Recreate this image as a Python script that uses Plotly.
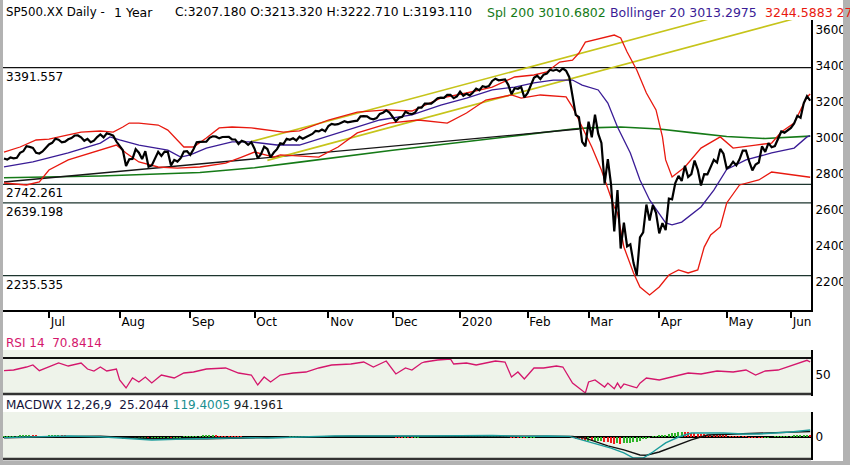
import pandas as pd
import plotly.graph_objects as go

# ---------------- data ----------------
holidays = ["2019-07-04", "2019-09-02", "2019-11-28", "2019-12-25", "2020-01-01",
            "2020-01-20", "2020-02-17", "2020-04-10", "2020-05-25"]

closes = [
    # Jun 2019 (from 11th)
    2885.72, 2879.84, 2891.64, 2886.98, 2889.67, 2917.75, 2926.46, 2954.18, 2950.46, 2945.35,
    2917.38, 2913.78, 2924.92, 2941.76,
    # Jul
    2964.33, 2973.01, 2995.82, 2990.41, 2975.95, 2979.63, 2993.07, 2999.91, 3013.77, 3014.30,
    3004.04, 2984.42, 2995.11, 2976.61, 2985.03, 3005.47, 3019.56, 3003.67, 3025.86, 3020.97,
    3013.18, 2980.38,
    # Aug
    2953.56, 2932.05, 2844.74, 2881.77, 2883.98, 2938.09, 2918.65, 2882.70, 2926.32, 2840.60,
    2847.60, 2888.68, 2923.65, 2900.51, 2924.43, 2922.95, 2847.11, 2878.38, 2869.16, 2887.94,
    2924.58, 2926.46,
    # Sep
    2906.27, 2937.78, 2976.00, 2978.71, 2978.43, 2979.39, 3000.93, 3009.57, 3007.39, 2997.96,
    3005.70, 3006.73, 3006.79, 2992.07, 2991.78, 2966.60, 2984.87, 2977.62, 2961.79, 2976.74,
    # Oct
    2940.25, 2887.61, 2910.63, 2952.01, 2938.79, 2893.06, 2919.40, 2938.13, 2970.27, 2966.15,
    2995.68, 2989.69, 2997.95, 2986.20, 3006.72, 2995.99, 3004.52, 3010.29, 3022.55, 3039.42,
    3036.89, 3046.77, 3037.56,
    # Nov
    3066.91, 3078.27, 3074.62, 3076.78, 3085.18, 3093.08, 3087.01, 3091.84, 3094.04, 3096.63,
    3120.46, 3122.03, 3120.18, 3108.46, 3103.54, 3110.29, 3133.64, 3140.52, 3153.63, 3140.98,
    # Dec
    3113.87, 3093.20, 3112.76, 3117.43, 3145.91, 3135.96, 3132.52, 3141.63, 3168.57, 3168.80,
    3191.45, 3192.52, 3191.14, 3205.37, 3221.22, 3224.01, 3223.38, 3239.91, 3240.02, 3221.29,
    3230.78,
    # Jan 2020
    3257.85, 3234.85, 3246.28, 3237.18, 3253.05, 3274.70, 3265.35, 3288.13, 3283.15, 3289.29,
    3316.81, 3329.62, 3320.79, 3321.75, 3325.54, 3295.47, 3243.63, 3276.24, 3273.40, 3283.66,
    3225.52,
    # Feb
    3248.92, 3297.59, 3334.69, 3345.78, 3327.71, 3352.09, 3357.75, 3379.45, 3373.94, 3380.16,
    3370.29, 3386.15, 3373.23, 3337.75, 3225.89, 3128.21, 3116.39, 2978.76, 2954.22,
    # Mar
    3090.23, 3003.37, 3130.12, 3023.94, 2972.37, 2746.56, 2882.23, 2741.38, 2480.64, 2711.02,
    2386.13, 2529.19, 2398.10, 2409.39, 2304.92, 2237.40, 2447.33, 2475.56, 2630.07, 2541.47,
    2626.65, 2584.59,
    # Apr
    2470.50, 2526.90, 2488.65, 2663.68, 2659.41, 2749.98, 2789.82, 2761.63, 2846.06, 2783.36,
    2799.55, 2874.56, 2823.16, 2736.56, 2799.31, 2797.80, 2836.74, 2878.48, 2863.39, 2939.51,
    2912.43,
    # May
    2830.71, 2842.74, 2868.44, 2848.42, 2881.19, 2929.80, 2930.19, 2870.12, 2820.00, 2852.50,
    2863.70, 2953.91, 2922.94, 2971.61, 2948.51, 2955.45, 2991.77, 3036.13, 3029.73, 3044.31,
    # Jun
    3055.73, 3080.82, 3122.87, 3112.35, 3193.93, 3232.39, 3207.18,
]

sma200_dates = ["2019-06-11", "2019-07-24", "2019-09-06", "2019-10-01", "2019-10-21",
                "2019-11-13", "2019-12-02", "2019-12-18", "2020-01-02", "2020-02-03",
                "2020-02-24", "2020-03-02", "2020-03-16", "2020-04-01", "2020-04-16",
                "2020-05-01", "2020-05-19", "2020-06-01", "2020-06-09"]
sma200_vals = [2779, 2789, 2808, 2835, 2866, 2906, 2932, 2957, 2975, 3020,
               3050, 3056, 3061, 3050, 3030, 3008, 2997, 3003, 3010.68]

bb_upper_dates = ["2019-06-11", "2019-06-18", "2019-06-25", "2019-07-01", "2019-07-10",
                  "2019-07-16", "2019-07-24", "2019-07-30", "2019-08-02", "2019-08-06",
                  "2019-08-09", "2019-08-19", "2019-08-22", "2019-08-27", "2019-08-29",
                  "2019-09-04", "2019-09-10", "2019-09-16", "2019-09-20", "2019-09-30",
                  "2019-10-07", "2019-10-14", "2019-10-21", "2019-11-01", "2019-11-14",
                  "2019-11-27", "2019-12-10", "2019-12-23", "2020-01-06", "2020-01-16",
                  "2020-01-28", "2020-02-05", "2020-02-11", "2020-02-18", "2020-02-24",
                  "2020-02-26", "2020-02-28", "2020-03-06", "2020-03-12", "2020-03-16",
                  "2020-03-18", "2020-03-23", "2020-03-26", "2020-03-31", "2020-04-02",
                  "2020-04-03", "2020-04-07", "2020-04-14", "2020-04-21", "2020-04-29",
                  "2020-05-05", "2020-05-14", "2020-05-21", "2020-05-27", "2020-06-02",
                  "2020-06-08", "2020-06-09"]
bb_upper_vals = [2922, 2950, 2989, 2994, 3017, 3033, 3039, 3033, 3061, 3083,
                 3083, 3072, 3044, 2989, 2950, 2950, 3000, 3056, 3061, 3056,
                 3044, 3033, 3040, 3100, 3144, 3156, 3150, 3222, 3250, 3283,
                 3339, 3350, 3367, 3422, 3433, 3472, 3533, 3556, 3572, 3556,
                 3478, 3378, 3250, 3156, 3006, 2878, 2783, 2839, 2944, 3006,
                 2944, 2961, 2972, 3033, 3083, 3228, 3244.59]

bb_mid_dates = ["2019-06-11", "2019-06-24", "2019-07-10", "2019-07-24", "2019-07-29",
                "2019-08-01", "2019-08-09", "2019-08-22", "2019-08-28", "2019-09-03",
                "2019-09-10", "2019-09-20", "2019-09-30", "2019-10-10", "2019-10-21",
                "2019-10-30", "2019-11-11", "2019-11-25", "2019-12-10", "2019-12-23",
                "2020-01-06", "2020-01-16", "2020-01-28", "2020-02-05", "2020-02-13",
                "2020-02-24", "2020-02-27", "2020-03-05", "2020-03-10", "2020-03-13",
                "2020-03-19", "2020-03-24", "2020-03-27", "2020-04-01", "2020-04-03",
                "2020-04-07", "2020-04-13", "2020-04-21", "2020-04-27", "2020-05-01",
                "2020-05-11", "2020-05-21", "2020-06-02", "2020-06-08", "2020-06-09"]
bb_mid_vals = [2839, 2867, 2917, 2972, 3006, 2989, 2961, 2933, 2894, 2906,
               2944, 2978, 2978, 2961, 2961, 3000, 3044, 3100, 3128, 3183,
               3222, 3267, 3283, 3306, 3322, 3322, 3294, 3267, 3194, 3061,
               2917, 2767, 2656, 2583, 2528, 2517, 2533, 2617, 2711, 2825,
               2878, 2917, 2944, 3006, 3013.30]

bb_lower_dates = ["2019-06-11", "2019-06-20", "2019-06-26", "2019-07-01", "2019-07-10",
                  "2019-07-19", "2019-07-29", "2019-07-31", "2019-08-05", "2019-08-09",
                  "2019-08-19", "2019-08-27", "2019-09-06", "2019-09-18", "2019-09-25",
                  "2019-10-01", "2019-10-09", "2019-10-11", "2019-10-29", "2019-11-06",
                  "2019-11-14", "2019-11-29", "2019-12-12", "2019-12-26", "2020-01-06",
                  "2020-01-14", "2020-01-27", "2020-01-30", "2020-02-07", "2020-02-20",
                  "2020-02-24", "2020-02-26", "2020-03-03", "2020-03-06", "2020-03-12",
                  "2020-03-13", "2020-03-17", "2020-03-20", "2020-03-24", "2020-03-27",
                  "2020-04-01", "2020-04-06", "2020-04-09", "2020-04-15", "2020-04-20",
                  "2020-04-22", "2020-04-24", "2020-04-29", "2020-05-01", "2020-05-07",
                  "2020-05-15", "2020-05-21", "2020-06-02", "2020-06-08", "2020-06-09"]
bb_lower_vals = [2750, 2739, 2756, 2822, 2878, 2917, 2950, 2961, 2917, 2867,
                 2839, 2833, 2839, 2861, 2894, 2922, 2894, 2906, 2894, 2950,
                 3028, 3083, 3100, 3083, 3139, 3211, 3239, 3222, 3239, 3228,
                 3172, 3100, 2950, 2822, 2617, 2583, 2394, 2250, 2172, 2128,
                 2172, 2239, 2267, 2250, 2267, 2394, 2461, 2506, 2639, 2739,
                 2767, 2811, 2794, 2783, 2782.0]

# drawn trend lines (start / end)
trend_upper_dates = ["2019-09-30", "2020-05-07"]
trend_upper_vals = [2980, 3707]
trend_lower_dates = ["2019-10-07", "2020-06-09"]
trend_lower_vals = [2875.7, 3686.5]
support_dates = ["2019-06-11", "2020-02-26"]
support_vals = [2755.6, 3050]

levels = [3391.557, 2742.261, 2639.198, 2235.535]

rsi_dates = ["2019-06-11", "2019-06-14", "2019-06-20", "2019-06-24", "2019-06-26",
             "2019-07-01", "2019-07-05", "2019-07-10", "2019-07-16", "2019-07-18",
             "2019-07-22", "2019-07-24", "2019-07-26", "2019-07-31", "2019-08-01",
             "2019-08-05", "2019-08-07", "2019-08-09", "2019-08-13", "2019-08-15",
             "2019-08-20", "2019-08-26", "2019-08-29", "2019-09-04", "2019-09-10",
             "2019-09-18", "2019-09-24", "2019-09-30", "2019-10-02", "2019-10-04",
             "2019-10-08", "2019-10-11", "2019-10-17", "2019-10-23", "2019-10-29",
             "2019-11-04", "2019-11-12", "2019-11-18", "2019-11-21", "2019-11-27",
             "2019-12-03", "2019-12-06", "2019-12-10", "2019-12-13", "2019-12-16",
             "2019-12-20", "2019-12-27", "2019-12-30", "2020-01-06", "2020-01-09",
             "2020-01-14", "2020-01-17", "2020-01-23", "2020-01-27", "2020-01-29",
             "2020-01-31", "2020-02-05", "2020-02-10", "2020-02-14", "2020-02-19",
             "2020-02-24", "2020-02-27", "2020-02-28", "2020-03-02", "2020-03-04",
             "2020-03-09", "2020-03-10", "2020-03-12", "2020-03-13", "2020-03-16",
             "2020-03-17", "2020-03-20", "2020-03-23", "2020-03-24", "2020-03-26",
             "2020-04-01", "2020-04-07", "2020-04-15", "2020-04-21", "2020-04-28",
             "2020-05-05", "2020-05-11", "2020-05-14", "2020-05-19", "2020-05-26",
             "2020-05-29", "2020-06-03", "2020-06-05", "2020-06-08", "2020-06-09"]
rsi_vals = [56.9, 58.0, 62.8, 66.0, 56.9, 62.8, 69.2, 64.4, 69.2, 59.6,
            56.4, 62.8, 56.4, 59.6, 42.0, 29.2, 45.2, 38.8, 46.8, 37.2,
            50.0, 45.2, 53.2, 54.8, 59.6, 61.2, 53.2, 50.0, 34.0, 46.8,
            38.8, 50.0, 53.2, 54.8, 61.2, 66.0, 67.6, 70.8, 62.8, 72.4,
            51.6, 61.2, 58.0, 69.2, 70.8, 74.0, 75.6, 67.6, 69.2, 66.0,
            69.2, 72.4, 70.8, 46.8, 54.8, 43.6, 61.2, 61.2, 64.4, 62.8,
            37.2, 24.4, 21.2, 38.8, 42.0, 30.8, 37.0, 28.0, 37.0, 29.0,
            35.6, 31.0, 29.5, 37.0, 45.2, 42.0, 46.8, 53.2, 51.6, 56.4,
            54.8, 58.0, 50.0, 56.4, 58.0, 62.8, 67.6, 70.8, 73.5, 70.84]

macd_dates = ["2019-06-11", "2019-06-24", "2019-07-10", "2019-07-24", "2019-08-05",
              "2019-08-15", "2019-08-29", "2019-09-13", "2019-09-30", "2019-10-07",
              "2019-10-21", "2019-11-05", "2019-11-19", "2019-12-05", "2019-12-16",
              "2020-01-02", "2020-01-16", "2020-01-31", "2020-02-11", "2020-02-21",
              "2020-02-27", "2020-03-03", "2020-03-11", "2020-03-17", "2020-03-20",
              "2020-03-25", "2020-03-30", "2020-04-03", "2020-04-09", "2020-04-16",
              "2020-04-23", "2020-04-30", "2020-05-08", "2020-05-15", "2020-05-22",
              "2020-06-01", "2020-06-09"]
macd_vals = [-10, 5, 17, 5, -17, -50, -34, -17, -10, -17,
             5, 17, 17, 10, 17, 20, 25, 10, 17, 10,
             -50, -100, -190, -270, -357, -357, -255, -100, 0, 68,
             68, 68, 51, 51, 68, 85, 119.4005]

signal_dates = ["2019-06-11", "2019-07-01", "2019-07-24", "2019-08-15", "2019-09-10",
                "2019-10-01", "2019-10-21", "2019-11-12", "2019-12-10", "2020-01-10",
                "2020-02-05", "2020-02-24", "2020-02-28", "2020-03-10", "2020-03-17",
                "2020-03-24", "2020-03-26", "2020-04-01", "2020-04-09", "2020-04-16",
                "2020-04-23", "2020-05-08", "2020-05-21", "2020-06-09"]
signal_vals = [-15, 5, 12, -30, -30, -12, -5, 14, 14, 18,
               15, 10, -20, -150, -220, -306, -310, -255, -136, -50,
               34, 51, 68, 94.1961]

macd_hist = [
    10, 12, 14, 15, 16, 18, 20, 22, 22, 20, 18, 17, 16, 17,
    18, 20, 22, 22, 20, 18, 17, 16, 15, 13, 10, 8, 5, 3, 2, 3, 4, 2, 3, 1, -2, -8,
    -14, -20, -30, -33, -34, -30, -28, -27, -24, -27, -26, -22, -16, -13, -9, -6, -9, -8, -6, -3, 2, 5,
    6, 9, 14, 17, 19, 20, 21, 21, 19, 16, 14, 12, 10, 7, 5, 2, 1, -1, -3, -3,
    -7, -13, -15, -14, -14, -17, -15, -12, -7, -4, 0, 2, 4, 6, 8, 9, 10, 11, 12, 13, 14, 14, 13,
    14, 15, 14, 13, 12, 11, 10, 9, 8, 8, 9, 9, 8, 6, 4, 3, 4, 5, 6, 5,
    2, -2, -3, -4, -2, -3, -4, -3, -1, 1, 3, 5, 7, 7, 8, 9, 9, 10, 9, 7, 7,
    8, 6, 6, 5, 5, 6, 5, 6, 5, 5, 7, 8, 6, 5, 4, 2, -4, -5, -6, -6, -11,
    -11, -8, -3, 1, 2, 3, 5, 7, 7, 7, 6, 6, 4, 1, -10, -24, -36, -55, -70,
    -70, -75, -63, -63, -62, -80, -85, -95, -115, -100, -125, -110, -105, -95, -90, -85, -60, -40, -20, -5, 5, 12,
    20, 30, 40, 50, 60, 70, 80, 85, 82, 78, 72, 65, 58, 50, 45, 40, 35, 30, 28, 25, 22,
    20, 15, 12, 8, 5, 3, 2, -2, -5, -8, -10, -12, -8, -3, 0, 2, 3, 8, 12, 15,
    16, 18, 20, 22, 25, 28, 25.2044,
]

month_keys = ["2019-07", "2019-08", "2019-09", "2019-10", "2019-11", "2019-12",
              "2020-01", "2020-02", "2020-03", "2020-04", "2020-05", "2020-06"]
month_labels = ["Jul", "Aug", "Sep", "Oct", "Nov", "Dec", "2020", "Feb", "Mar", "Apr", "May", "Jun"]
price_ticks = [2200, 2400, 2600, 2800, 3000, 3200, 3400, 3600]
rsi_ticks = [50]
macd_ticks = [0]

# ---------------- positions (trading-day axis) ----------------
trade_days = [d.strftime("%Y-%m-%d") for d in pd.bdate_range("2019-06-11", "2020-06-09")
              if d.strftime("%Y-%m-%d") not in holidays]
pos = {d: i + 1 for i, d in enumerate(trade_days)}
xs = [pos[d] for d in trade_days][:len(closes)]


def P(dates):
    return [pos[d] for d in dates]


month_pos = []
for mk in month_keys:
    month_pos.append(min(pos[d] for d in trade_days if d.startswith(mk)))

# ---------------- layout helpers ----------------
W, H = 850, 465
ML, MR = 3, 39
PW = W - ML - MR


def fx(px):
    return (px - ML) / PW


def fy(py):
    return 1 - py / H


FONT = "DejaVu Sans"
RED = "#e8190f"
PURPLE = "#3a1c96"
GREEN = "#157a17"
YELLOW = "#c6c41a"
LEVEL = "#1c352e"

fig = go.Figure()

# main panel traces
fig.add_trace(go.Scatter(x=P(sma200_dates), y=sma200_vals, mode="lines",
                         line=dict(color=GREEN, width=1.6), xaxis="x", yaxis="y"))
fig.add_trace(go.Scatter(x=P(support_dates), y=support_vals, mode="lines",
                         line=dict(color="#161616", width=1.3), xaxis="x", yaxis="y"))
fig.add_trace(go.Scatter(x=P(trend_upper_dates), y=trend_upper_vals, mode="lines",
                         line=dict(color=YELLOW, width=1.6), xaxis="x", yaxis="y"))
fig.add_trace(go.Scatter(x=P(trend_lower_dates), y=trend_lower_vals, mode="lines",
                         line=dict(color=YELLOW, width=1.6), xaxis="x", yaxis="y"))
fig.add_trace(go.Scatter(x=P(bb_upper_dates), y=bb_upper_vals, mode="lines",
                         line=dict(color=RED, width=1.3), xaxis="x", yaxis="y"))
fig.add_trace(go.Scatter(x=P(bb_lower_dates), y=bb_lower_vals, mode="lines",
                         line=dict(color=RED, width=1.3), xaxis="x", yaxis="y"))
fig.add_trace(go.Scatter(x=P(bb_mid_dates), y=bb_mid_vals, mode="lines",
                         line=dict(color=PURPLE, width=1.3), xaxis="x", yaxis="y"))
fig.add_trace(go.Scatter(x=xs, y=closes, mode="lines",
                         line=dict(color="#000000", width=2.2), xaxis="x", yaxis="y"))

# RSI
fig.add_trace(go.Scatter(x=P(rsi_dates), y=rsi_vals, mode="lines",
                         line=dict(color="#d4166c", width=1.3), xaxis="x2", yaxis="y2"))

# MACD
hist_colors = []
for i, h in enumerate(macd_hist):
    prev = macd_hist[i - 1] if i > 0 else h
    hist_colors.append("#2fb52a" if h >= prev else "#ee1c1c")
fig.add_trace(go.Bar(x=xs[:len(macd_hist)], y=macd_hist, width=0.45,
                     marker=dict(color=hist_colors, line=dict(width=0)),
                     xaxis="x3", yaxis="y3"))
fig.add_trace(go.Scatter(x=P(signal_dates), y=signal_vals, mode="lines",
                         line=dict(color="#111111", width=1.4), xaxis="x3", yaxis="y3"))
fig.add_trace(go.Scatter(x=P(macd_dates), y=macd_vals, mode="lines",
                         line=dict(color="#1a9c9c", width=1.4), xaxis="x3", yaxis="y3"))

xr = [0.69, 252.25]
tickfont = dict(family=FONT, size=12, color="#000")

shapes = []
# shaded indicator panels
shapes.append(dict(type="rect", xref="paper", yref="paper", x0=0, x1=1, y0=fy(394), y1=fy(350),
                   fillcolor="#eef3ea", line=dict(width=0), layer="below"))
shapes.append(dict(type="rect", xref="paper", yref="paper", x0=0, x1=1, y0=fy(458), y1=fy(412),
                   fillcolor="#eef3ea", line=dict(width=0), layer="below"))
# RSI frame lines
shapes.append(dict(type="line", xref="paper", yref="paper", x0=0, x1=1, y0=fy(358), y1=fy(358),
                   line=dict(color="#111", width=2.2)))
shapes.append(dict(type="line", xref="paper", yref="paper", x0=0, x1=1, y0=fy(394), y1=fy(394),
                   line=dict(color="#333", width=2.5)))
# MACD bottom line
shapes.append(dict(type="line", xref="paper", yref="paper", x0=0, x1=1, y0=fy(459), y1=fy(459),
                   line=dict(color="#333", width=2.5)))
# MACD zero line
shapes.append(dict(type="line", xref="x3 domain", yref="y3", x0=0, x1=1, y0=0, y1=0,
                   line=dict(color="#000", width=2), layer="below"))
# price levels
for i, lv in enumerate(levels):
    shapes.append(dict(type="line", xref="x domain", yref="y", x0=0, x1=1, y0=lv, y1=lv,
                       line=dict(color="#111" if i == 0 else LEVEL, width=1.3), layer="below"))
# outer gray frame
shapes.append(dict(type="rect", xref="paper", yref="paper", x0=fx(-1), x1=fx(3), y0=-0.01, y1=1.01,
                   fillcolor="#b2b2b2", line=dict(width=0)))
shapes.append(dict(type="rect", xref="paper", yref="paper", x0=fx(843), x1=fx(851), y0=-0.01, y1=1.01,
                   fillcolor="#b2b2b2", line=dict(width=0)))
shapes.append(dict(type="rect", xref="paper", yref="paper", x0=fx(-1), x1=fx(851), y0=-0.01, y1=fy(461),
                   fillcolor="#b2b2b2", line=dict(width=0)))

nb = "\u00a0"
header_parts = [
    ("SP500.XX Daily -", "#000000", 4, 11.8),
    ("1 Year", "#000000", 112, 12.5),
    ("C:3207.180 O:3213.320 H:3222.710 L:3193.110", "#000000", 173, 12.3),
    ("Spl 200 3010.6802", GREEN, 485, 12.5),
    ("Bollinger 20 3013.2975", PURPLE, 608, 12.5),
    ("3244.5883 2782.0067", RED, 763, 12.5),
]

annotations = []
for txt, col, xpx, fs in header_parts:
    annotations.append(dict(text=txt, xref="paper", yref="paper", x=fx(xpx), y=fy(12.5),
                            xanchor="left", yanchor="middle", showarrow=False,
                            font=dict(family=FONT, size=fs, color=col)))
annotations += [
    dict(text="RSI 14" + nb * 2 + "70.8414", xref="paper", yref="paper", x=fx(4), y=fy(343),
         xanchor="left", yanchor="middle", showarrow=False,
         font=dict(family=FONT, size=12, color="#d4166c")),
    dict(text="<span style='color:#14143c'>MACDWX 12,26,9" + nb * 2 + "25.2044</span> "
              "<span style='color:#1a8f8f'>119.4005</span> "
              "<span style='color:#1a1a1a'>94.1961</span>",
         xref="paper", yref="paper", x=fx(4), y=fy(405), xanchor="left", yanchor="middle",
         showarrow=False, font=dict(family=FONT, size=12, color="#000")),
]
for lv in levels:
    annotations.append(dict(text="%.3f" % lv, xref="paper", yref="y", x=fx(4), y=lv,
                            xanchor="left", yanchor="middle", yshift=-9, showarrow=False,
                            font=dict(family=FONT, size=12, color="#000")))

fig.update_layout(
    width=W, height=H,
    margin=dict(l=ML, r=MR, t=0, b=0, pad=0),
    paper_bgcolor="#ffffff", plot_bgcolor="rgba(0,0,0,0)",
    showlegend=False, bargap=0,
    font=dict(family=FONT, size=12, color="#000"),
    xaxis=dict(domain=[0, 1], range=xr, anchor="y", showgrid=False, zeroline=False,
               showline=True, linecolor="#000", linewidth=2,
               ticks="outside", ticklen=6, tickwidth=1.5, tickcolor="#000",
               tickvals=month_pos, ticktext=month_labels, ticklabelposition="outside right",
               tickfont=tickfont),
    xaxis2=dict(domain=[0, 1], range=xr, anchor="y2", matches="x", visible=False),
    xaxis3=dict(domain=[0, 1], range=xr, anchor="y3", matches="x", visible=False),
    yaxis=dict(domain=[fy(310), fy(20)], range=[2044.4, 3655.6], side="right", anchor="x",
               showgrid=False, zeroline=False, showline=True, linecolor="#000", linewidth=2,
               ticks="", tickvals=price_ticks, tickfont=tickfont),
    yaxis2=dict(domain=[fy(396), fy(350)], range=[16.4, 90], side="right", anchor="x2",
                showgrid=False, zeroline=False, showline=True, linecolor="#000", linewidth=2,
                ticks="", tickvals=rsi_ticks, tickfont=tickfont),
    yaxis3=dict(domain=[fy(460), fy(412)], range=[-391, 425], side="right", anchor="x3",
                showgrid=False, zeroline=False, showline=True, linecolor="#000", linewidth=2,
                ticks="", tickvals=macd_ticks, tickfont=tickfont),
    shapes=shapes,
    annotations=annotations,
)

fig.write_html("out.html", config={"displayModeBar": False},
               post_script="document.body.style.margin='0px';document.body.style.overflow='hidden';")
